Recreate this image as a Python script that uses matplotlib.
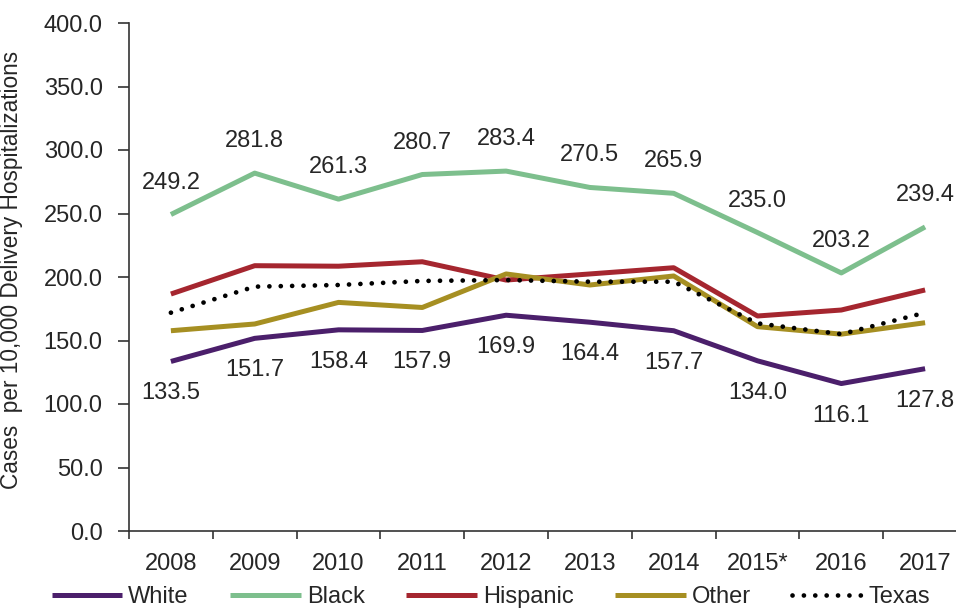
import numpy as np
import matplotlib
matplotlib.use("Agg")
import matplotlib.pyplot as plt

plt.rcParams['font.family'] = ['Liberation Sans', 'DejaVu Sans']

# rates per 10,000 delivery hospitalizations
years = ['2008', '2009', '2010', '2011', '2012', '2013', '2014', '2015*', '2016', '2017']
white = [133.5, 151.7, 158.4, 157.9, 169.9, 164.4, 157.7, 134.0, 116.1, 127.8]
black = [249.2, 281.8, 261.3, 280.7, 283.4, 270.5, 265.9, 235.0, 203.2, 239.4]
hispanic = [186.6, 208.9, 208.5, 212.0, 197.6, 202.4, 207.3, 169.3, 174.0, 189.8]
other = [157.7, 163.0, 180.0, 176.0, 202.4, 193.7, 200.8, 160.9, 155.0, 164.0]
texas = [171.9, 192.4, 193.7, 196.9, 197.6, 196.3, 196.3, 163.5, 155.0, 171.9]

TXT = '#262626'
FS = 17

fig = plt.figure(figsize=(9.56, 6.09), dpi=100)
ax = fig.add_axes([129/956, 78/609, 838/956, 508/609])

x = np.arange(len(years))
ax.plot(x, white, color='#4b1f6b', lw=3.6, solid_capstyle='butt', label='White')
ax.plot(x, black, color='#7dbf8d', lw=3.6, solid_capstyle='butt', label='Black')
ax.plot(x, hispanic, color='#a5262f', lw=3.6, solid_capstyle='butt', label='Hispanic')
ax.plot(x, other, color='#a68f22', lw=3.6, solid_capstyle='butt', label='Other')
ax.plot(x, texas, color='black', lw=3.4, linestyle=(0, (0.01, 2.4)),
        dash_capstyle='round', label='Texas')

# value labels: black above its line, white below
for xi, v in zip(x, black):
    ax.annotate(f'{v:.1f}', xy=(xi, v), xytext=(0, 32), textcoords='offset pixels',
                ha='center', va='center', fontsize=FS, color=TXT, annotation_clip=False)
for xi, v in zip(x, white):
    ax.annotate(f'{v:.1f}', xy=(xi, v), xytext=(0, -32), textcoords='offset pixels',
                ha='center', va='center', fontsize=FS, color=TXT, annotation_clip=False)

ax.set_xlim(-0.5, len(years) - 0.5)
ax.set_ylim(0, 400)
ax.set_yticks(np.arange(0, 401, 50))
ax.set_yticklabels([f'{t:.1f}' for t in np.arange(0, 401, 50)])

# boundary ticks between years, labels centred on each year
ax.set_xticks(np.arange(-0.5, len(years), 1))
ax.set_xticklabels([])
ax.set_xticks(x, minor=True)
ax.set_xticklabels(years, minor=True)
ax.tick_params(axis='x', which='major', length=6, width=1.2, direction='out', color='#333333')
ax.tick_params(axis='x', which='minor', length=0, pad=16, labelsize=FS, labelcolor=TXT)
ax.tick_params(axis='y', length=8, width=1.2, direction='out', pad=11,
               labelsize=FS, labelcolor=TXT, color='#333333')

for side in ['top', 'right']:
    ax.spines[side].set_visible(False)
for side in ['left', 'bottom']:
    ax.spines[side].set_linewidth(1.2)
    ax.spines[side].set_color('#333333')

ax.set_ylabel('Cases  per 10,000 Delivery Hospitalizations', fontsize=16.3, color=TXT)
ax.yaxis.set_label_coords(-(129 - 23) / 838, (531 - 270) / 508)

fig.legend(loc='center', bbox_to_anchor=(491/956, 1 - 597/609), ncol=5, frameon=False,
           fontsize=FS, handlelength=3.0, handletextpad=0.25, columnspacing=1.75,
           labelcolor=TXT)

fig.savefig('out.png', dpi=100)
